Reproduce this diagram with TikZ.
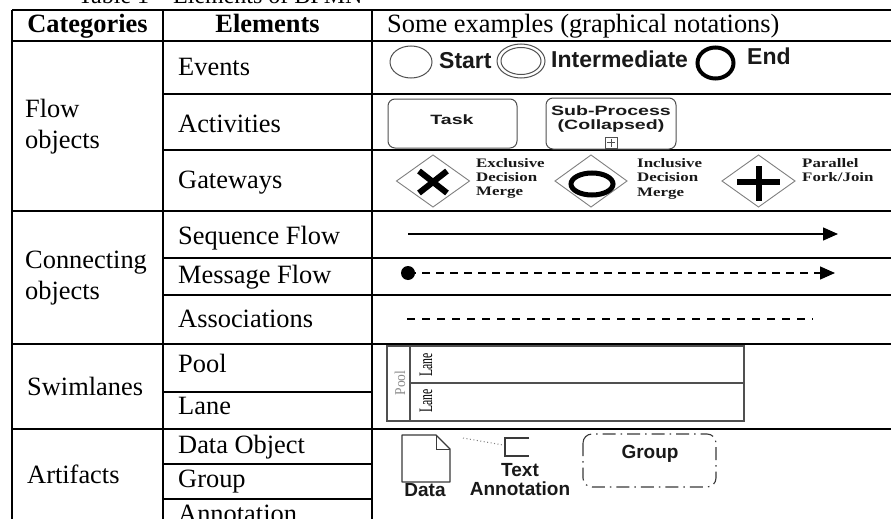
\documentclass[tikz,border=0pt]{standalone}
\usepackage{fontspec}
\usepackage{graphicx}
\setmainfont{Liberation Serif}
\newfontfamily\sansf{Liberation Sans}
\usetikzlibrary{arrows.meta}
\definecolor{shapegray}{HTML}{3A3A3A}
\definecolor{poolgray}{HTML}{8A8A8A}
\definecolor{linegray}{HTML}{505050}
\begin{document}
\begin{tikzpicture}[x=1pt,y=-1pt,
  grid/.style={line width=1.7pt},
  txt/.style={anchor=base west,inner sep=0pt,font=\fontsize{26.4}{31}\selectfont},
  hdr/.style={anchor=base,inner sep=0pt,font=\fontsize{26.4}{31}\selectfont\bfseries},
  evlbl/.style={anchor=base west,inner sep=0pt,text=black!90,font=\sansf\bfseries\fontsize{23}{27}\selectfont},
  actlbl/.style={anchor=base,inner sep=0pt,text=black!90,font=\sansf\bfseries\fontsize{13.5}{16}\selectfont},
  gwlbl/.style={anchor=base west,inner sep=0pt,text=black!90,font=\bfseries\fontsize{13}{15}\selectfont},
  artlbl/.style={anchor=base,inner sep=0pt,text=black!90,font=\sansf\bfseries\fontsize{19}{22}\selectfont},
  evt/.style={draw=linegray,line width=1pt},
  actbox/.style={draw=linegray,line width=1pt,rounded corners=7pt},
  gwshape/.style={draw=gray,line width=0.9pt},
  flow/.style={line width=1.3pt,black},
  poolline/.style={draw=linegray,line width=1.2pt},
  lanelbl/.style={rotate=90,inner sep=0pt,font=\fontsize{19}{22}\selectfont},
]
\useasboundingbox (0,0) rectangle (891,519);
\clip (0,0) rectangle (891,519);
\fill[white] (0,0) rectangle (891,519);

% title (mostly cut off)
\node[anchor=base west,inner sep=0pt,font=\fontsize{24}{28}\selectfont] (title) at (78,4) {Table 1 \textendash{} Elements of BPMN};

% ---------- grid ----------
\draw[grid] (12,10) -- (900,10);
\draw[grid] (12,41) -- (900,41);
\draw[grid] (12,10) -- (12,530);
\draw[grid] (163,10) -- (163,530);
\draw[grid] (372,10) -- (372,530);
\draw[grid] (163,94) -- (900,94);
\draw[grid] (163,150) -- (900,150);
\draw[grid] (12,211) -- (900,211);
\draw[grid] (163,258) -- (900,258);
\draw[grid] (163,295) -- (900,295);
\draw[grid] (12,344) -- (900,344);
\draw[grid] (163,392) -- (372,392);
\draw[grid] (12,429) -- (900,429);
\draw[grid] (163,464) -- (372,464);
\draw[grid] (163,499) -- (372,499);

% ---------- headers ----------
\node[hdr] (hcat) at (87.5,33) {Categories};
\node[hdr] (hel) at (267.5,33) {Elements};
\node[txt] (hex) at (387,33) {Some examples (graphical notations)};

% ---------- categories ----------
\node[txt] (c1a) at (25,117) {Flow};
\node[txt] (c1b) at (25,148) {objects};
\node[txt] (c2a) at (25,268) {Connecting};
\node[txt] (c2b) at (25,299) {objects};
\node[txt] (c3) at (27,395) {Swimlanes};
\node[txt] (c4) at (27,483) {Artifacts};

% ---------- elements ----------
\node[txt] (e1) at (178,75) {Events};
\node[txt] (e2) at (178,132) {Activities};
\node[txt] (e3) at (178,188) {Gateways};
\node[txt] (e4) at (178,244) {Sequence Flow};
\node[txt] (e5) at (178,283) {Message Flow};
\node[txt] (e6) at (178,327) {Associations};
\node[txt] (e7) at (178,372) {Pool};
\node[txt] (e8) at (178,414) {Lane};
\node[txt] (e9) at (178,453) {Data Object};
\node[txt] (e10) at (178,487) {Group};
\node[txt] (e11) at (178,522) {Annotation};

% ---------- events ----------
\draw[evt] (411,62) ellipse [x radius=21,y radius=16];
\node[evlbl] (start) at (439,68) {Start};
\draw[evt] (521,61) ellipse [x radius=24,y radius=17];
\draw[evt] (521,61) ellipse [x radius=20,y radius=13.5];
\node[evlbl] (inter) at (551,67) {Intermediate};
\draw[line width=4pt] (715.5,63) ellipse [x radius=18,y radius=15.5];
\node[evlbl] (endev) at (747,65) {End};

% ---------- activities ----------
\draw[actbox] (388,99) rectangle (517,148);
\node[actlbl] (task) at (452,124) {\scalebox{1.45}[1]{Task}};
\draw[actbox] (546,98) rectangle (676,149);
\node[actlbl] (sp1) at (611,115) {\scalebox{1.45}[1]{Sub-Process}};
\node[actlbl] (sp2) at (611,129) {\scalebox{1.45}[1]{(Collapsed)}};
\draw[draw=linegray,line width=0.8pt] (605,137) rectangle (617,148);
\draw[draw=linegray,line width=0.8pt] (607,142.5) -- (615,142.5) (611,138.5) -- (611,146.5);

% ---------- gateways ----------
\draw[gwshape] (396.5,181) -- (433,155) -- (469.5,181) -- (433,207) -- cycle;
\draw[line width=6pt] (419,171) -- (447,193) (447,171) -- (419,193);
\node[gwlbl] (g1a) at (476,167) {\scalebox{1.3}[1]{Exclusive}};
\node[gwlbl] (g1b) at (476,181) {\scalebox{1.3}[1]{Decision}};
\node[gwlbl] (g1c) at (476,195) {\scalebox{1.3}[1]{Merge}};

\draw[gwshape] (555,181) -- (591,155) -- (627,181) -- (591,207) -- cycle;
\draw[line width=5pt] (592,184) ellipse [x radius=21,y radius=11];
\node[gwlbl] (g2a) at (637,167) {\scalebox{1.3}[1]{Inclusive}};
\node[gwlbl] (g2b) at (637,181) {\scalebox{1.3}[1]{Decision}};
\node[gwlbl] (g2c) at (637,196) {\scalebox{1.3}[1]{Merge}};

\draw[gwshape] (722,181) -- (758.5,155) -- (795,181) -- (758.5,207) -- cycle;
\draw[line width=6pt] (737,182) -- (780,182) (758.5,166) -- (758.5,201);
\node[gwlbl] (g3a) at (802,167) {\scalebox{1.3}[1]{Parallel}};
\node[gwlbl] (g3b) at (802,181) {\scalebox{1.3}[1]{Fork/Join}};

% ---------- connecting objects ----------
\coordinate (sq1) at (408,234);
\coordinate (sq2) at (838,234);
\draw[flow,-{Triangle[length=15pt,width=13pt]}] (sq1) -- (sq2);

\coordinate (ms1) at (408,273);
\coordinate (ms2) at (835,273);
\fill (ms1) circle [radius=7];
\draw[flow,dash pattern=on 8pt off 6pt,-{Triangle[length=15pt,width=13pt]}] (ms1) -- (ms2);

\coordinate (as1) at (407,319);
\coordinate (as2) at (813,319);
\draw[flow,dash pattern=on 8pt off 7pt] (as1) -- (as2);

% ---------- swimlanes ----------
\draw[poolline] (387,346) rectangle (744,421);
\draw[poolline] (410,346) -- (410,421);
\draw[poolline] (410,383) -- (744,383);
\node[rotate=90,inner sep=0pt,text=poolgray,font=\fontsize{15}{18}\selectfont] (pool) at (400,383) {\scalebox{0.9}[1]{Pool}};
\node[lanelbl] (lane1) at (426,365) {\scalebox{0.62}[1]{Lane}};
\node[lanelbl] (lane2) at (426,401) {\scalebox{0.62}[1]{Lane}};

% ---------- artifacts ----------
\draw[draw=shapegray,line width=1.3pt,line join=round] (402,435) -- (436,435) -- (450,449) -- (450,482) -- (402,482) -- cycle;
\draw[draw=shapegray,line width=1pt] (436,435) -- (436,449) -- (450,449);
\node[artlbl] (data) at (425,496) {Data};

\coordinate (dt1) at (463,438);
\coordinate (dt2) at (503,445);
\draw[gray,line width=1pt,dash pattern=on 1pt off 2.5pt] (dt1) -- (dt2);
\draw[draw=shapegray,line width=1.2pt] (529,438) -- (505,438) -- (505,456) -- (529,456);
\node[artlbl] (ta1) at (520,476) {Text};
\node[artlbl] (ta2) at (520,495) {Annotation};

\draw[draw=shapegray,line width=1.1pt,rounded corners=9pt,dash pattern=on 13pt off 5pt on 1.5pt off 5pt] (583,434) rectangle (716,487);
\node[artlbl] (grp) at (650,458) {Group};
\end{tikzpicture}
\end{document}
